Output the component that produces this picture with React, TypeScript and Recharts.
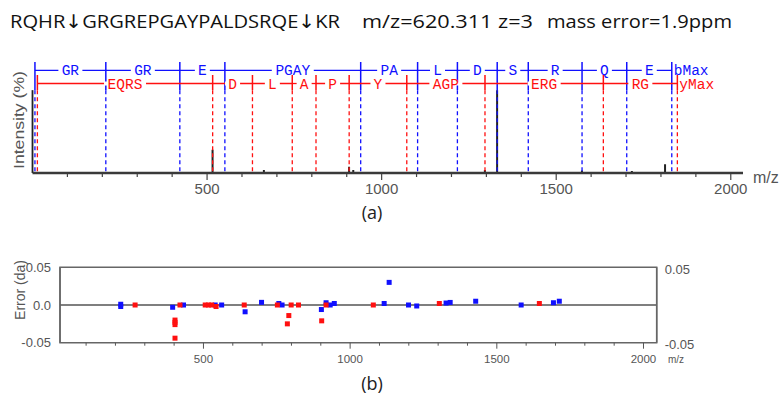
import React from "react";
import {
  ComposedChart,
  ScatterChart,
  Bar,
  Scatter,
  XAxis,
  YAxis,
  ReferenceLine,
  ReferenceDot,
  ReferenceArea,
} from "recharts";

// spectrum peaks (m/z, relative intensity %)
const PEAK_MZ = [516, 663, 907, 919, 1296, 1331, 1574, 1717, 1812];
const PEAK_INT = [28, 3.5, 7.5, 3.5, 3.5, 100, 3, 2.5, 10.5];

// fragment ladders
const B_IONS = [7, 210, 422, 551, 940, 1103, 1217, 1331, 1420, 1574, 1702, 1831];
const B_LABELS = ["GR", "GR", "E", "PGAY", "PA", "L", "D", "S", "R", "Q", "E"];
const Y_IONS = [14, 516, 630, 744, 812, 907, 1072, 1296, 1635, 1847];
const Y_LABELS = ["EQRS", "D", "L", "A", "P", "Y", "AGP", "ERG", "RG"];

// mass error (da) of matched ions
const B_ERR_MZ = [218, 218, 395, 432, 540, 562, 642, 698, 757, 768, 902, 918, 932, 946, 1116, 1133, 1199, 1227, 1327, 1341, 1428, 1583, 1693, 1713];
const B_ERR = [0.001, -0.002, -0.003, 0, 0, 0, -0.009, 0.0035, 0.002, 0, -0.006, 0.003, 0, 0.002, 0.002, 0.03, 0, -0.0013, 0.0026, 0.0034, 0.005, 0, 0.003, 0.005];
const Y_ERR_MZ = [267, 403, 403, 403, 403, 420, 506, 517, 528, 543, 639, 752, 786, 791, 799, 824, 903, 918, 1079, 1304, 1645];
const Y_ERR = [0, -0.02, -0.023, -0.026, -0.044, 0, 0, 0, 0, -0.002, 0, 0, -0.025, -0.014, 0, 0, -0.021, 0, 0, 0.002, 0.002];

const MZ_TICKS = [100, 200, 300, 400, 500, 600, 700, 800, 900, 1000, 1100, 1200, 1300, 1400, 1500, 1600, 1700, 1800, 1900, 2000];

const BLUE = "#1010ff";
const RED = "#ff1010";
const B_ROW = 123.8;
const Y_ROW = 108;

const peaks = PEAK_MZ.map((mz, i) => ({ mz, intensity: PEAK_INT[i] }));
const bErr = B_ERR_MZ.map((mz, i) => ({ mz, err: B_ERR[i] }));
const yErr = Y_ERR_MZ.map((mz, i) => ({ mz, err: Y_ERR[i] }));

const ladderLabel = (text: string, color: string) => (props: any) => {
  const vb = props.viewBox;
  const cx = vb.x + vb.width / 2;
  const cy = vb.y + vb.height / 2;
  const w = text.length * 9 + 6;
  return (
    <g>
      <rect x={cx - w / 2} y={cy - 2} width={w} height={4} fill="#fff" />
      <text x={cx} y={cy + 5} textAnchor="middle" fill={color} fontFamily="Liberation Mono, monospace" fontSize={14.5}>
        {text}
      </text>
    </g>
  );
};

const maxLabel = (text: string, color: string) => (props: any) => {
  const vb = props.viewBox;
  return (
    <text x={vb.x + 2} y={vb.y + 5} fill={color} fontFamily="Liberation Mono, monospace" fontSize={14.5}>
      {text}
    </text>
  );
};

const TopTick = (props: any) => {
  const { x, y, payload } = props;
  const major = payload.value % 500 === 0;
  return (
    <g>
      <line x1={x} x2={x} y1={y + 1} y2={y + (major ? 7 : 4)} stroke="#444" strokeWidth={1.2} />
      {major && (
        <text x={x} y={y + 21} textAnchor="middle" fill="#555" fontSize={15}>
          {payload.value}
        </text>
      )}
    </g>
  );
};

const BottomTick = (props: any) => {
  const { x, y, payload } = props;
  const major = payload.value % 500 === 0;
  return (
    <g>
      <line x1={x} x2={x} y1={y} y2={y + (major ? 6 : 3)} stroke="#555" strokeWidth={1} />
      {major && (
        <text x={x} y={y + 20} textAnchor="middle" fill="#555" fontSize={11.5}>
          {payload.value}
        </text>
      )}
    </g>
  );
};

const Square = (props: any) => {
  const { cx, cy, fill } = props;
  return <rect x={cx - 2.5} y={cy - 2.5} width={5} height={5} fill={fill} />;
};

const ionLines = (ions: number[], labels: string[], color: string, row: number, tickTop: number, key: string) => {
  const out: any[] = [];
  ions.forEach((mz, i) => {
    out.push(
      <ReferenceLine key={key + "s" + i} segment={[{ x: mz, y: tickTop }, { x: mz, y: 100 }]} stroke={color} strokeWidth={1.5} />
    );
    out.push(
      <ReferenceLine key={key + "d" + i} segment={[{ x: mz, y: 100 }, { x: mz, y: 0 }]} stroke={color} strokeWidth={1.3} strokeDasharray="4 3" />
    );
  });
  labels.forEach((lab, i) => {
    out.push(
      <ReferenceLine
        key={key + "h" + i}
        segment={[{ x: ions[i], y: row }, { x: ions[i + 1], y: row }]}
        stroke={color}
        strokeWidth={1.3}
        label={ladderLabel(lab, color)}
      />
    );
  });
  return out;
};

const ARROW = { fontFamily: "DejaVu Sans, sans-serif" };

export default function App() {
  return (
    <div
      style={{
        position: "absolute",
        left: 0,
        top: 0,
        width: 779,
        height: 401,
        background: "#fff",
        fontFamily: "Liberation Sans, Arial, sans-serif",
      }}
    >
      <ComposedChart
        width={779}
        height={200}
        data={peaks}
        margin={{ top: 57, right: 36, bottom: 5, left: 32.5 }}
        style={{ position: "absolute", left: 0, top: 0 }}
      >
        <XAxis
          dataKey="mz"
          type="number"
          domain={[0, 2035]}
          ticks={MZ_TICKS}
          interval={0}
          height={22}
          tickSize={0}
          tickMargin={0}
          tick={<TopTick />}
          axisLine={{ stroke: "#3a3a3a", strokeWidth: 2.5 }}
          allowDataOverflow
        />
        <YAxis type="number" domain={[0, 140]} hide allowDataOverflow />
        {ionLines(B_IONS, B_LABELS, BLUE, B_ROW, 134, "b")}
        {ionLines(Y_IONS, Y_LABELS, RED, Y_ROW, 118.3, "y")}
        <ReferenceDot x={B_IONS[B_IONS.length - 1]} y={B_ROW} r={0} stroke="none" fill="none" label={maxLabel("bMax", BLUE)} />
        <ReferenceDot x={Y_IONS[Y_IONS.length - 1]} y={Y_ROW} r={0} stroke="none" fill="none" label={maxLabel("yMax", RED)} />
        <ReferenceLine segment={[{ x: 0, y: 0 }, { x: 0, y: 100 }]} stroke="#222" strokeWidth={1.8} />
        <Bar dataKey="intensity" barSize={2} fill="#222" isAnimationActive={false} />
      </ComposedChart>

      <ScatterChart
        width={779}
        height={125}
        margin={{ top: 17.3, right: 72.3, bottom: 12.3, left: 0 }}
        style={{ position: "absolute", left: 0, top: 250 }}
      >
        <XAxis
          dataKey="mz"
          type="number"
          domain={[11, 2045]}
          ticks={MZ_TICKS}
          interval={0}
          height={20}
          tickSize={0}
          tickMargin={0}
          tick={<BottomTick />}
          axisLine={false}
          allowDataOverflow
        />
        <YAxis
          dataKey="err"
          type="number"
          domain={[-0.05, 0.05]}
          ticks={[-0.05, 0, 0.05]}
          tickFormatter={(v: number) => (v === 0 ? "0.0" : String(v))}
          width={60}
          tickLine={false}
          axisLine={{ stroke: "#666", strokeWidth: 1.5 }}
          tickMargin={3}
          tick={{ fill: "#555", fontSize: 13 }}
          allowDataOverflow
        />
        <YAxis
          yAxisId="r"
          dataKey="err"
          orientation="right"
          type="number"
          domain={[-0.05, 0.05]}
          ticks={[-0.05, 0.05]}
          width={50}
          tickLine={false}
          axisLine={{ stroke: "#666", strokeWidth: 1.5 }}
          tickMargin={2}
          tick={{ fill: "#555", fontSize: 13, dy: 2 }}
          allowDataOverflow
        />
        <ReferenceArea x1={11} x2={2045} y1={-0.05} y2={0.05} fill="none" stroke="#666" strokeWidth={1.5} ifOverflow="visible" />
        <ReferenceLine y={0} stroke="#555" strokeWidth={1.5} />
        <Scatter data={bErr} fill={BLUE} shape={<Square />} isAnimationActive={false} />
        <Scatter data={yErr} yAxisId="r" fill={RED} shape={<Square />} isAnimationActive={false} />
      </ScatterChart>

      <svg width={779} height={401} style={{ position: "absolute", left: 0, top: 0, pointerEvents: "none" }}>
        <g fontFamily="Open Sans, Noto Sans, sans-serif" fontSize={19} fill="#111">
          <text x={10} y={28} textLength={330} lengthAdjust="spacingAndGlyphs">
            RQHR<tspan style={ARROW}>↓</tspan>GRGREPGAYPALDSRQE<tspan style={ARROW}>↓</tspan>KR
          </text>
          <text x={362} y={28} textLength={171} lengthAdjust="spacingAndGlyphs">m/z=620.311 z=3</text>
          <text x={547} y={28} textLength={185} lengthAdjust="spacingAndGlyphs">mass error=1.9ppm</text>
        </g>
        <text x={753} y={183} fill="#555" fontSize={16}>m/z</text>
        <text transform="translate(24,120) rotate(-90)" textAnchor="middle" fill="#555" fontSize={15} textLength={98} lengthAdjust="spacingAndGlyphs">
          Intensity (%)
        </text>
        <text transform="translate(25,290) rotate(-90)" textAnchor="middle" fill="#555" fontSize={14}>
          Error (da)
        </text>
        <text x={668} y={363} fill="#555" fontSize={10}>m/z</text>
        <text x={372} y={219} textAnchor="middle" fill="#222" fontSize={18} fontFamily="Open Sans, Noto Sans, sans-serif">(a)</text>
        <text x={372} y={390} textAnchor="middle" fill="#222" fontSize={18} fontFamily="Open Sans, Noto Sans, sans-serif">(b)</text>
      </svg>
    </div>
  );
}
